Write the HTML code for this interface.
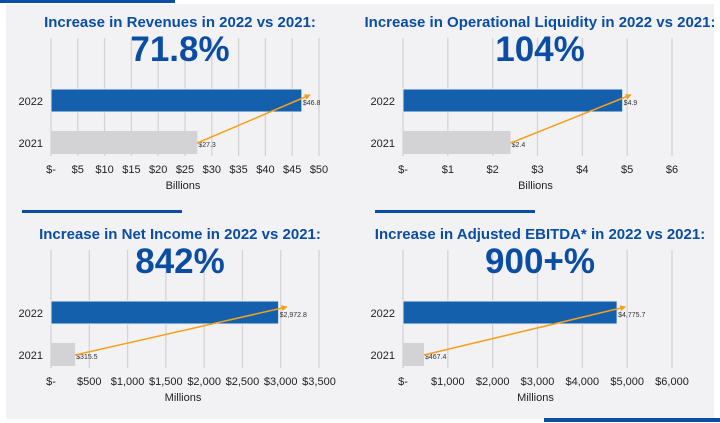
<!DOCTYPE html>
<html><head><meta charset="utf-8">
<style>
html,body{margin:0;padding:0;background:#fff;}
svg{display:block;font-family:"Liberation Sans",Arial,sans-serif;}
</style></head>
<body>
<svg id="c" width="720" height="423" viewBox="0 0 720 423">
<rect x="6" y="4" width="708" height="415" fill="#f2f2f4"/>
<rect x="0" y="0" width="175" height="3" fill="#0a4da2"/>
<rect x="22" y="210" width="160" height="3" fill="#0a4da2"/>
<rect x="375" y="210" width="160" height="3" fill="#0a4da2"/>
<rect x="544" y="418" width="176" height="4" fill="#0a4da2"/>
</svg>
<script>
const categories = ["2022", "2021"];
const titles = ["Increase in Revenues in 2022 vs 2021:", "Increase in Operational Liquidity in 2022 vs 2021:", "Increase in Net Income in 2022 vs 2021:", "Increase in Adjusted EBITDA* in 2022 vs 2021:"];
const headlines = ["71.8%", "104%", "842%", "900+%"];
const values2022 = [46.8, 4.9, 2972.8, 4775.7];
const values2021 = [27.3, 2.4, 315.5, 467.4];
const valueLabels2022 = ["$46.8", "$4.9", "$2,972.8", "$4,775.7"];
const valueLabels2021 = ["$27.3", "$2.4", "$315.5", "$467.4"];
const axisMax = [50, 6, 3500, 6000];
const tickStep = [5, 1, 500, 1000];
const ticks1 = ["$-","$5","$10","$15","$20","$25","$30","$35","$40","$45","$50"];
const ticks2 = ["$-","$1","$2","$3","$4","$5","$6"];
const ticks3 = ["$-","$500","$1,000","$1,500","$2,000","$2,500","$3,000","$3,500"];
const ticks4 = ["$-","$1,000","$2,000","$3,000","$4,000","$5,000","$6,000"];
const tickLabels = [ticks1, ticks2, ticks3, ticks4];
const units = ["Billions", "Billions", "Millions", "Millions"];

const NS = "http://www.w3.org/2000/svg";
const svg = document.getElementById("c");
function mk(tag, attrs, parent){
  const e = document.createElementNS(NS, tag);
  for (const k in attrs) e.setAttribute(k, attrs[k]);
  (parent||svg).appendChild(e);
  return e;
}
const defs = mk("defs", {});
const mkr = mk("marker", {id:"ah", markerWidth:"6", markerHeight:"6", refX:"5", refY:"3", orient:"auto", markerUnits:"userSpaceOnUse"}, defs);
mk("path", {d:"M0,0 L6,3 L0,6 z", fill:"#f5a01a"}, mkr);

const panels = [
  {x0:51, x1:319, cx:180, oy:0},
  {x0:403, x1:672, cx:540, oy:0},
  {x0:51, x1:319, cx:180, oy:212},
  {x0:403, x1:672, cx:540, oy:212}
];
panels.forEach((p, i) => {
  const g = mk("g", {});
  
  
  const xs = v => p.x0 + (v / axisMax[i]) * (p.x1 - p.x0);
  const oy = p.oy;
  const gTop = 38 + oy, gBot = 156 + oy;
  // gridlines + tick labels
  tickLabels[i].forEach((lab, k) => {
    const x = xs(k * tickStep[i]);
    const gl = mk("line", {x1:x, x2:x, y1:gTop, y2:gBot, stroke:"#d4d4d6", "stroke-width":"1.3"}, g);
    
    
    const t = mk("text", {x:x, y:173+oy, "text-anchor":"middle", "font-size":"11", fill:"#222"}, g);
    t.textContent = lab;
    
    
  });
  const ttl = mk("text", {x:p.cx, y:27+oy, "text-anchor":"middle", "font-size":"15", "font-weight":"bold", fill:"#0a4da2"}, g);
  ttl.textContent = titles[i];
  
  
  const hl = mk("text", {x:p.cx, y:61+oy, "text-anchor":"middle", "font-size":"35", "font-weight":"bold", fill:"#0a4da2"}, g);
  hl.textContent = headlines[i];
  
  
  const ax = mk("text", {x:p.x0 + (p.x1-p.x0)/2 - 2, y:189+oy, "text-anchor":"middle", "font-size":"11", fill:"#222"}, g);
  ax.textContent = units[i];
  
  
  // bars
  const rows = [
    {v:values2022[i], lab:valueLabels2022[i], y:89+oy, fill:"#1560ad", stroke:"#e8eef7"},
    {v:values2021[i], lab:valueLabels2021[i], y:131+oy, fill:"#d3d3d5", stroke:"none"}
  ];
  rows.forEach((r, j) => {
    const w = xs(r.v) - p.x0;
    const b = mk("rect", {x:p.x0, y:r.y, width:w, height:23, fill:r.fill, stroke:r.stroke, "stroke-width":"1"}, g);
    
    
    const c = mk("text", {x:p.x0 - 8, y:r.y + 16, "text-anchor":"end", "font-size":"11", fill:"#222"}, g);
    c.textContent = categories[j];
    
    
    const vl = mk("text", {x:xs(r.v) + 1, y:r.y + 16, "font-size":"7", fill:"#333"}, g);
    vl.textContent = r.lab;
    
    
  });
  const arr = mk("line", {x1:xs(values2021[i]), y1:143+oy, x2:xs(values2022[i]) + 8, y2:95+oy, stroke:"#f5a01a", "stroke-width":"1.5", "marker-end":"url(#ah)"}, g);
  
  
});
</script>
</body></html>
